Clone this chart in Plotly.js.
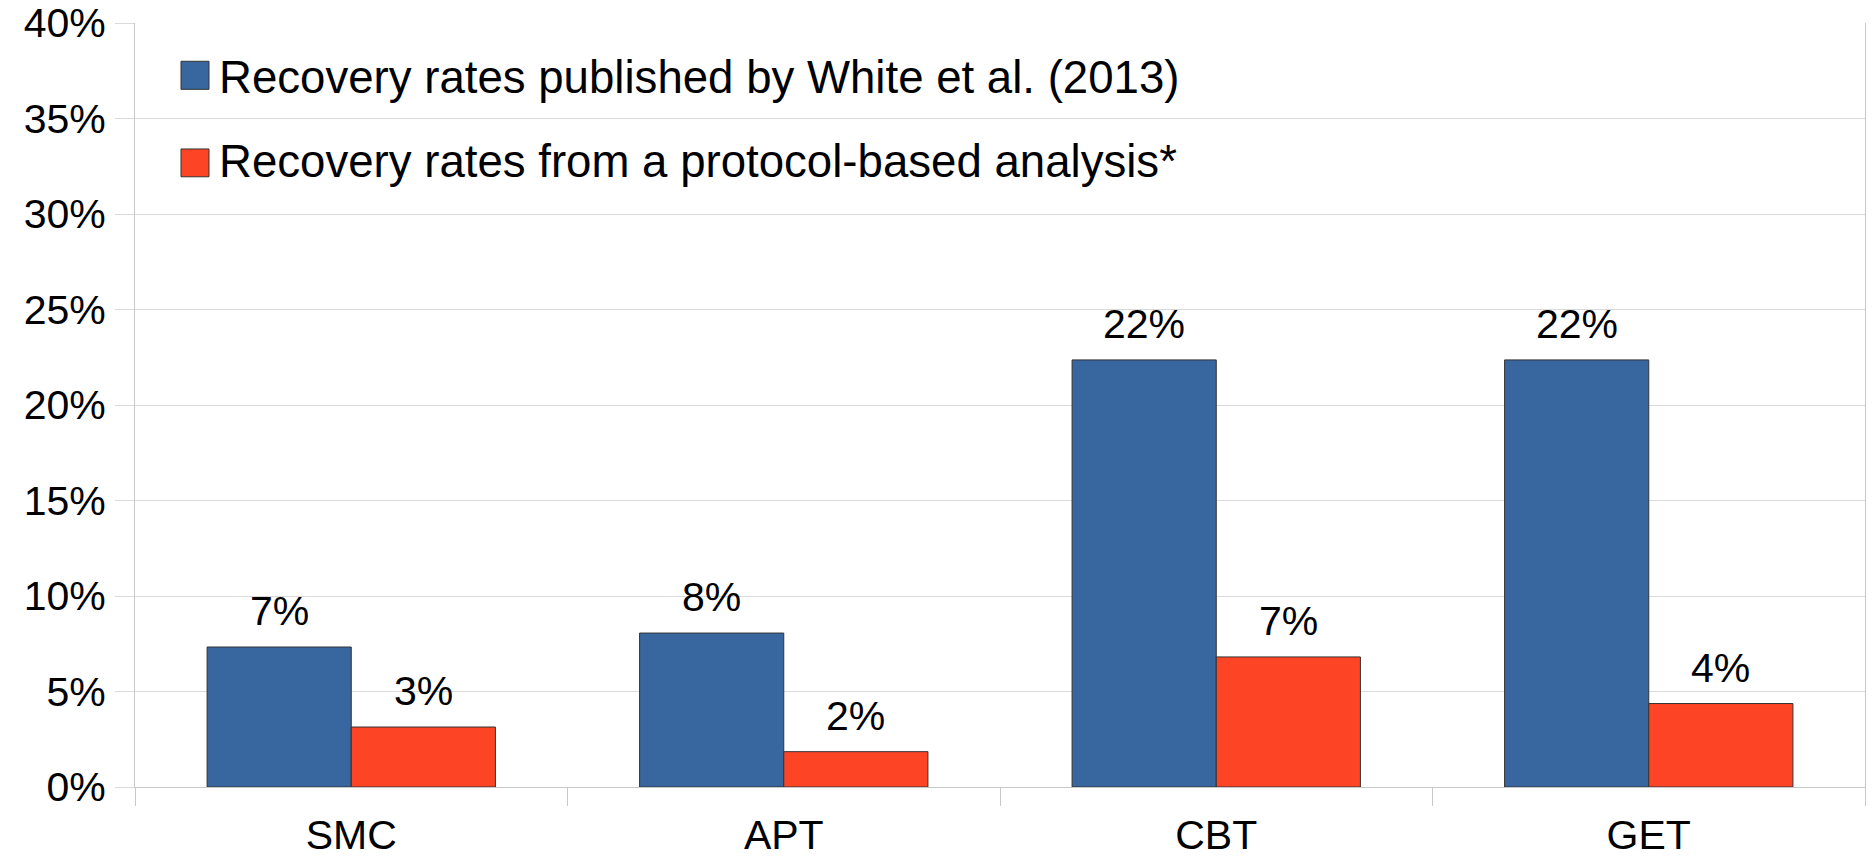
<!DOCTYPE html>
<html>
<head>
<meta charset="utf-8">
<script src="https://cdn.plot.ly/plotly-3.0.1.min.js"></script>
<style>
  html, body { margin: 0; padding: 0; background: #ffffff; }
  #chart { width: 1872px; height: 861px; }
</style>
</head>
<body>
<div id="chart"></div>
<script>
// ---- data ----
const categories = ["SMC", "APT", "CBT", "GET"];
const seriesNames = [
  "Recovery rates published by White et al. (2013)",
  "Recovery rates from a protocol-based analysis*"
];
const whiteRates = [0.0733, 0.0806, 0.2236, 0.2236];
const protocolRates = [0.0314, 0.0185, 0.0681, 0.0437];
const yTickValues = [0, 0.05, 0.10, 0.15, 0.20, 0.25, 0.30, 0.35, 0.40];

// ---- style ----
const FONT = "Liberation Sans, Arial, sans-serif";
const colors = ["#38669f", "#fd4424"];
const outline = "#333333";
const gridColor = "#dadada";
const axisColor = "#c8c8c8";
const LABEL_SIZE = 41;
const LEGEND_SIZE = 45.6;

const seriesValues = [whiteRates, protocolRates];
const BARGAP = 1 / 3;
const barOffset = (1 - BARGAP) / 4; // center offset of each bar within a group

const traces = seriesValues.map((vals, i) => ({
  type: "bar",
  name: seriesNames[i],
  x: categories,
  y: vals,
  marker: { color: colors[i], line: { color: outline, width: 1 } },
  showlegend: false,
  hoverinfo: "x+y"
}));

// value labels above the bars
const annotations = [];
seriesValues.forEach((vals, i) => {
  const off = i === 0 ? -barOffset : barOffset;
  vals.forEach((v, j) => {
    annotations.push({
      x: j + off, y: v, xref: "x", yref: "y",
      text: Math.round(v * 100) + "%",
      showarrow: false, xanchor: "center", yanchor: "bottom",
      yshift: 11,
      font: { family: FONT, size: LABEL_SIZE, color: "#000000" }
    });
  });
});

// custom legend (large swatches like the original)
const legendRows = [
  { top: 0.9499, bottom: 0.9132, textY: 0.9293 },
  { top: 0.8351, bottom: 0.7987, textY: 0.8181 }
];
const shapes = [];
legendRows.forEach((r, i) => {
  shapes.push({
    type: "rect", xref: "paper", yref: "paper",
    x0: 0.02659, x1: 0.04277, y0: r.bottom, y1: r.top,
    fillcolor: colors[i], line: { color: outline, width: 1 }
  });
  annotations.push({
    x: 0.0476, y: r.textY, xref: "paper", yref: "paper",
    text: seriesNames[i], showarrow: false,
    xanchor: "left", yanchor: "middle",
    font: { family: FONT, size: LEGEND_SIZE, color: "#000000" }
  });
});

const layout = {
  width: 1872, height: 861,
  margin: { l: 135, r: 7, t: 23, b: 74, pad: 0 },
  paper_bgcolor: "#ffffff",
  plot_bgcolor: "#ffffff",
  font: { family: FONT, size: LABEL_SIZE, color: "#000000" },
  barmode: "group",
  bargap: BARGAP,
  bargroupgap: 0,
  showlegend: false,
  xaxis: {
    type: "category",
    showgrid: false,
    showline: true, linecolor: axisColor, linewidth: 1,
    ticks: "outside", tickson: "boundaries", ticklen: 18,
    tickcolor: axisColor, tickwidth: 1,
    tickfont: { family: FONT, size: LABEL_SIZE, color: "#000000" },
    ticklabelstandoff: 12,
    zeroline: false
  },
  yaxis: {
    range: [0, 0.4],
    autorange: false,
    tickvals: yTickValues,
    tickformat: ".0%",
    showgrid: true, gridcolor: gridColor, gridwidth: 1,
    showline: true, linecolor: axisColor, linewidth: 1, mirror: true,
    ticks: "outside", ticklen: 19, tickcolor: gridColor, tickwidth: 1,
    tickfont: { family: FONT, size: LABEL_SIZE, color: "#000000" },
    ticklabelstandoff: 1,
    zeroline: false
  },
  shapes: shapes,
  annotations: annotations
};

Plotly.newPlot("chart", traces, layout, { displayModeBar: false, staticPlot: true });
</script>
</body>
</html>
